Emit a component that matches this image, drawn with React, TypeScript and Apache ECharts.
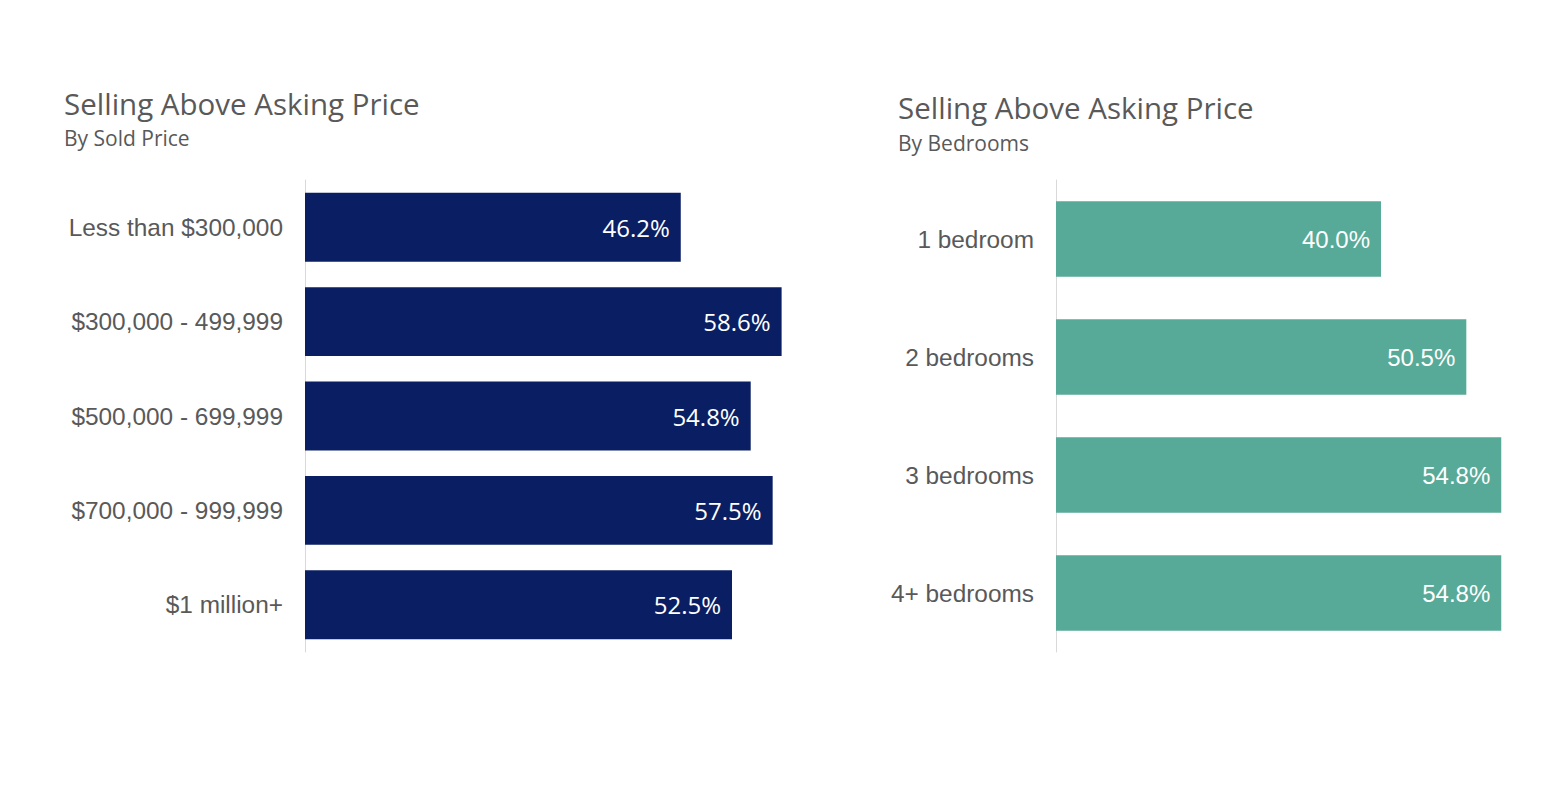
import React, { useEffect, useRef } from "react";
import * as echarts from "echarts";

const priceCategories = [
  "Less than $300,000",
  "$300,000 - 499,999",
  "$500,000 - 699,999",
  "$700,000 - 999,999",
  "$1 million+",
];
const priceValues = [46.2, 58.6, 54.8, 57.5, 52.5];

const bedroomCategories = ["1 bedroom", "2 bedrooms", "3 bedrooms", "4+ bedrooms"];
const bedroomValues = [40.0, 50.5, 54.8, 54.8];

const titleLeft = "Selling Above Asking Price";
const subtitleLeft = "By Sold Price";
const titleRight = "Selling Above Asking Price";
const subtitleRight = "By Bedrooms";

const NAVY = "#0A1F63";
const TEAL = "#57AA98";
const GREY = "#595959";

export default function App() {
  const ref = useRef<HTMLDivElement>(null);
  useEffect(() => {
    if (!ref.current) return;
    const chart = echarts.init(ref.current, undefined, { renderer: "svg" });
    const catAxis = (gridIndex: number, data: string[]) => ({
      type: "category",
      gridIndex,
      data,
      inverse: true,
      axisTick: { show: false },
      axisLine: { show: true, lineStyle: { color: "#D9D9D9", width: 1 } },
      axisLabel: {
        margin: 22,
        fontSize: 24.4,
        color: GREY,
        fontFamily: "'Liberation Sans', Arial, sans-serif",
      },
      splitLine: { show: false },
    });
    const valAxis = (gridIndex: number) => ({
      type: "value",
      gridIndex,
      min: 0,
      max: 60,
      show: false,
      splitLine: { show: false },
    });
    const tStyle = (size: number) => ({
      fontSize: size,
      fontWeight: "normal",
      color: GREY,
      fontFamily: "'Open Sans', sans-serif",
    });
    chart.setOption({
      animation: false,
      backgroundColor: "#ffffff",
      title: [
        { text: titleLeft, left: 64, top: 88, padding: 0, textStyle: tStyle(29.5) },
        { text: subtitleLeft, left: 64, top: 127, padding: 0, textStyle: tStyle(21) },
        { text: titleRight, left: 898, top: 92, padding: 0, textStyle: tStyle(29.5) },
        { text: subtitleRight, left: 898, top: 132, padding: 0, textStyle: tStyle(21) },
      ],
      grid: [
        { left: 305, top: 180, width: 488, height: 472 },
        { left: 1056, top: 180, width: 487.5, height: 472 },
      ],
      xAxis: [valAxis(0), valAxis(1)],
      yAxis: [catAxis(0, priceCategories), catAxis(1, bedroomCategories)],
      series: [
        {
          type: "bar",
          xAxisIndex: 0,
          yAxisIndex: 0,
          data: priceValues,
          barCategoryGap: "27%",
          itemStyle: { color: NAVY },
          label: {
            show: true,
            position: "insideRight",
            distance: 11,
            color: "#ffffff",
            fontSize: 24,
            fontFamily: "'Open Sans', sans-serif",
            formatter: (p: any) => p.value.toFixed(1) + "%",
          },
        },
        {
          type: "bar",
          xAxisIndex: 1,
          yAxisIndex: 1,
          data: bedroomValues,
          barCategoryGap: "36%",
          itemStyle: { color: TEAL },
          label: {
            show: true,
            position: "insideRight",
            distance: 11,
            color: "#ffffff",
            fontSize: 24,
            fontFamily: "'Liberation Sans', Arial, sans-serif",
            formatter: (p: any) => p.value.toFixed(1) + "%",
          },
        },
      ],
    });
    return () => chart.dispose();
  }, []);
  return (
    <div
      ref={ref}
      style={{ position: "fixed", left: 0, top: 0, width: 1547, height: 792 }}
    />
  );
}
